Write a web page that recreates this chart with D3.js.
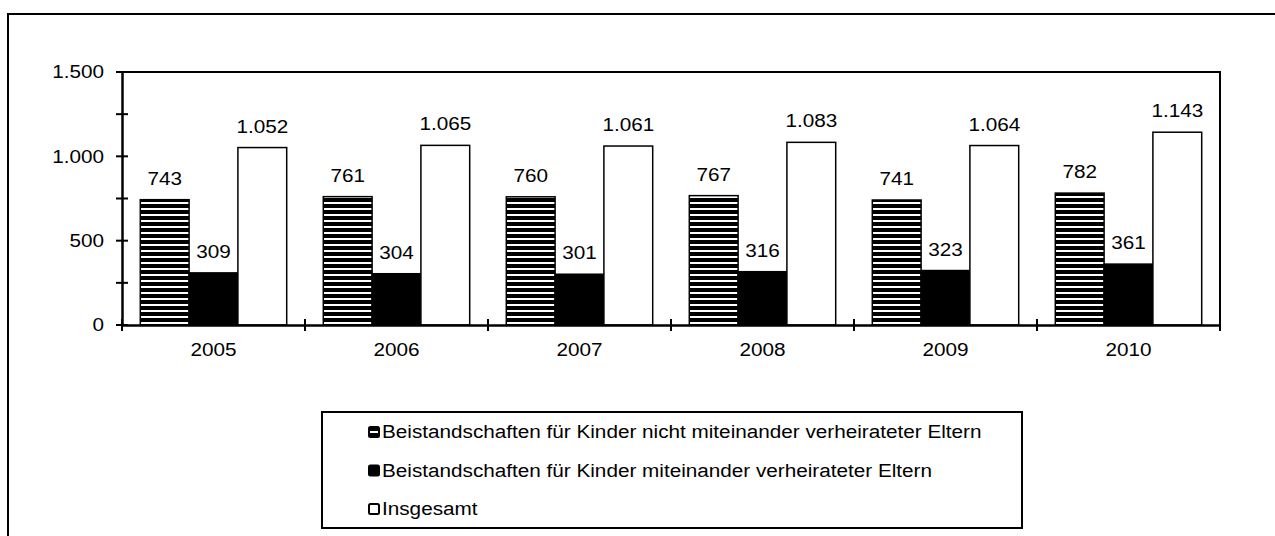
<!DOCTYPE html>
<head>
    <meta charset="utf-8">
    <script src="https://d3js.org/d3.v7.min.js"></script>
    <style>
        body { margin: 0; background: #fff; }
        text { font-family: "Liberation Sans", Arial, sans-serif; fill: #000; }
    </style>
</head>
<body>
<script>
    // data
    const years = ["2005", "2006", "2007", "2008", "2009", "2010"];
    const nichtVerheiratet = [743, 761, 760, 767, 741, 782];
    const verheiratet = [309, 304, 301, 316, 323, 361];
    const insgesamt = [1052, 1065, 1061, 1083, 1064, 1143];
    const seriesNames = [
        "Beistandschaften für Kinder nicht miteinander verheirateter Eltern",
        "Beistandschaften für Kinder miteinander verheirateter Eltern",
        "Insgesamt"
    ];
    const yTicks = [0, 500, 1000, 1500];
    const yMinor = [250, 750, 1250];

    const width = 1275, height = 536;
    const plot = {left: 122, right: 1220, top: 72, bottom: 325};
    const fs = 18, stretch = 1.15;   // the original text is a bit wider than Arial

    const de = d3.formatLocale({decimal: ",", thousands: ".", grouping: [3], currency: ["", " €"]});
    const fmt = de.format(",d");

    const svg = d3.select("body").append("svg")
        .attr("width", width).attr("height", height);

    const defs = svg.append("defs");
    const pat = defs.append("pattern").attr("id", "stripes")
        .attr("patternUnits", "userSpaceOnUse").attr("width", 8).attr("height", 6);
    pat.append("rect").attr("width", 8).attr("height", 6).attr("fill", "#fff");
    pat.append("rect").attr("width", 8).attr("height", 4).attr("fill", "#000");

    const fills = ["url(#stripes)", "#000", "#fff"];
    const series = [nichtVerheiratet, verheiratet, insgesamt];

    // outer chart frame (runs off the right and bottom edge)
    svg.append("rect").attr("x", 8).attr("y", 14)
        .attr("width", 1300).attr("height", 600)
        .attr("fill", "none").attr("stroke", "#000").attr("stroke-width", 2);

    const x0 = d3.scaleBand().domain(years)
        .range([plot.left, plot.right]).paddingInner(0.2).paddingOuter(0.1);
    const x1 = d3.scaleBand().domain(d3.range(3)).range([0, x0.bandwidth()]);
    const y = d3.scaleLinear().domain([0, 1500]).range([plot.bottom, plot.top]);

    // plot area border (top and right)
    svg.append("path")
        .attr("d", `M${plot.left},${y(1500)}H${plot.right}V${y(0)}`)
        .attr("fill", "none").attr("stroke", "#000").attr("stroke-width", 2);

    // bars
    const groups = svg.append("g").selectAll("g").data(years).join("g")
        .attr("transform", d => `translate(${x0(d)},0)`);

    groups.each(function (yr, i) {
        const g = d3.select(this);
        series.forEach((s, k) => {
            g.append("rect")
                .attr("x", x1(k)).attr("y", y(s[i]))
                .attr("width", x1.bandwidth()).attr("height", y(0) - y(s[i]))
                .attr("fill", fills[k]).attr("stroke", "#000").attr("stroke-width", 1.5);
            g.append("text")
                .attr("x", x1(k) + x1.bandwidth() / 2).attr("y", y(s[i]) - 15)
                .attr("text-anchor", "middle").attr("font-size", fs)
                .text(fmt(s[i]));
        });
    });

    // y axis
    const yAxis = svg.append("g").attr("transform", `translate(${plot.left},0)`)
        .call(d3.axisLeft(y).tickValues(yTicks).tickFormat(fmt).tickSize(0).tickPadding(18));
    yAxis.select(".domain").attr("stroke", "#000").attr("stroke-width", 2.5);
    yAxis.selectAll("text").attr("font-size", fs).attr("font-family", null);
    svg.append("g").selectAll("line").data(yTicks.concat(yMinor)).join("line")
        .attr("x1", plot.left - 6).attr("x2", plot.left + 6)
        .attr("y1", d => y(d)).attr("y2", d => y(d))
        .attr("stroke", "#000").attr("stroke-width", 2);

    // x axis
    const xAxis = svg.append("g").attr("transform", `translate(0,${plot.bottom})`)
        .call(d3.axisBottom(x0).tickSize(0).tickPadding(18));
    xAxis.select(".domain").attr("stroke", "#000").attr("stroke-width", 2.5);
    xAxis.selectAll("text").attr("font-size", fs).attr("font-family", null);
    const bounds = years.map(d => x0(d) - x0.step() * x0.paddingInner() / 2).concat([plot.right]);
    svg.append("g").selectAll("line").data(bounds).join("line")
        .attr("x1", d => d).attr("x2", d => d)
        .attr("y1", plot.bottom - 6).attr("y2", plot.bottom + 6)
        .attr("stroke", "#000").attr("stroke-width", 2);

    // legend
    const legend = svg.append("g");
    legend.append("rect").attr("x", 322).attr("y", 412).attr("width", 700).attr("height", 116)
        .attr("fill", "#fff").attr("stroke", "#000").attr("stroke-width", 2);
    const rowY = d3.scalePoint().domain(d3.range(3)).range([432, 509]);
    const items = legend.selectAll("g").data(seriesNames).join("g")
        .attr("transform", (d, i) => `translate(369,${rowY(i)})`);
    items.append("rect").attr("x", 0).attr("y", -5).attr("width", 10).attr("height", 10)
        .attr("rx", 1.5)
        .attr("fill", (d, i) => i === 0 ? "#000" : fills[i])
        .attr("stroke", "#000").attr("stroke-width", 2);
    items.filter((d, i) => i === 0).append("rect")
        .attr("x", 1).attr("y", -1).attr("width", 8).attr("height", 2).attr("fill", "#fff");
    items.append("text").attr("x", 13).attr("y", 0).attr("dy", "0.35em")
        .attr("font-size", fs).text(d => d);

    // widen all text a little
    svg.selectAll("text").each(function () {
        const w = this.getComputedTextLength();
        d3.select(this).attr("textLength", w * stretch).attr("lengthAdjust", "spacingAndGlyphs");
    });
</script>
</body>
